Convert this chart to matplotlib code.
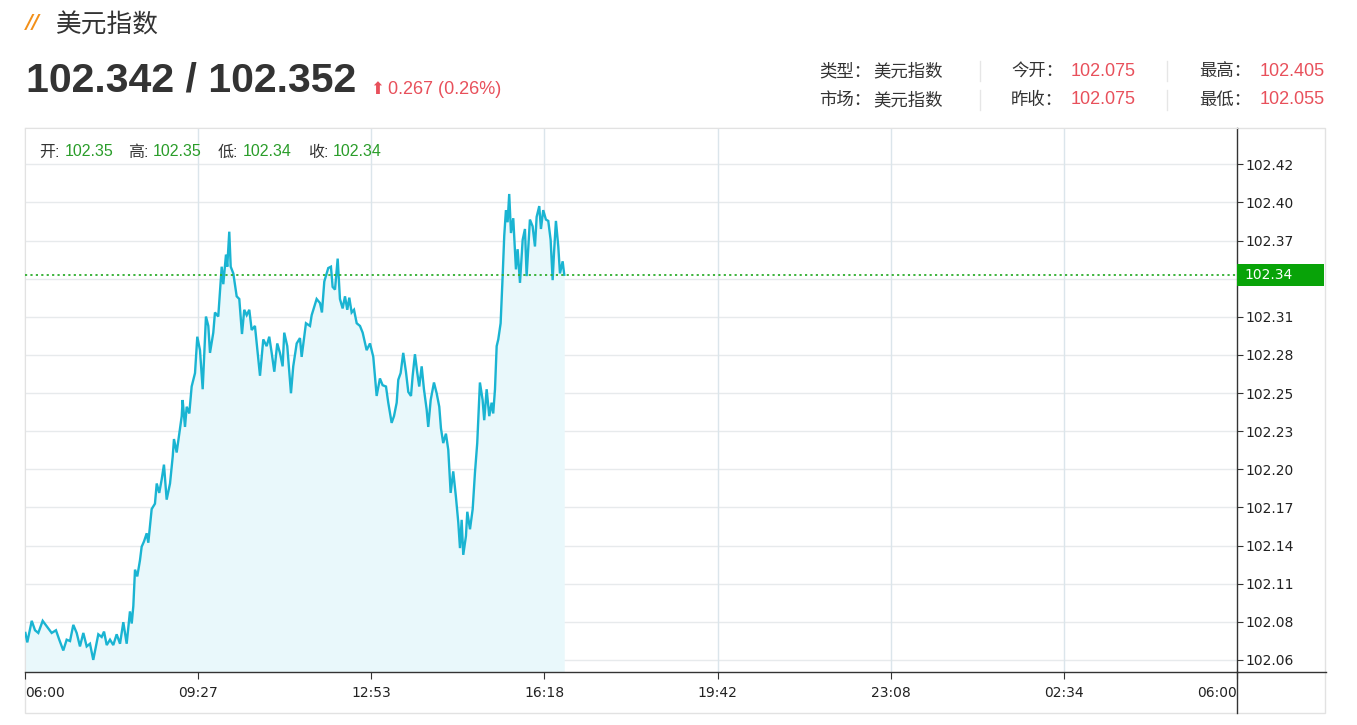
import numpy as np
import matplotlib
matplotlib.use("Agg")
import matplotlib.pyplot as plt
from matplotlib.lines import Line2D
from matplotlib.patches import Rectangle
from matplotlib.transforms import blended_transform_factory

# Header values
TITLE = "美元指数"
BID_ASK = "102.342 / 102.352"
CHANGE = "0.267 (0.26%)"
INFO_ROWS = [
    [("类型：", "美元指数"), ("今开：", "102.075"), ("最高：", "102.405")],
    [("市场：", "美元指数"), ("昨收：", "102.075"), ("最低：", "102.055")],
]
OHLC_LABELS = ["开:", "高:", "低:", "收:"]
OHLC_VALUES = ["102.35", "102.35", "102.34", "102.34"]

# Axis labels
X_TICK_LABELS = ["06:00", "09:27", "12:53", "16:18", "19:42", "23:08", "02:34", "06:00"]
Y_TICK_LABELS = ["102.06", "102.08", "102.11", "102.14", "102.17", "102.20", "102.23",
                 "102.25", "102.28", "102.31", "102.34", "102.37", "102.40", "102.42"]
Y_TICK_FIRST = 102.056
Y_TICK_LAST = 102.424

# Intraday series: minutes after 06:00 and price
MINUTES = [0.5, 2.7, 8.0, 11.9, 15.8, 21.0, 25.8, 31.7, 36.8, 40.7, 45.5, 49.5, 53.5, 57.4,
           61.4, 65.3, 69.3, 73.3, 77.2, 81.1, 87.1, 91.1, 93.9, 97.1, 101.0, 104.9, 108.9,
           112.9, 116.8, 120.8, 124.7, 126.8, 128.7, 130.7, 133.4, 136.6, 138.6, 141.4, 144.6,
           146.5, 150.5, 154.4, 156.5, 159.5, 162.4, 165.1, 168.3, 172.3, 175.5, 177.0, 180.2,
           183.3, 186.2, 187.3, 190.1, 192.1, 195.2, 198.0, 202.0, 204.7, 207.9, 211.1, 215.0,
           217.8, 219.8, 223.7, 225.7, 229.6, 233.7, 235.6, 238.8, 240.3, 242.7, 244.4, 247.5,
           251.5, 254.6, 257.8, 260.5, 263.4, 266.5, 269.3, 273.2, 275.3, 279.2, 283.1, 287.1,
           290.2, 293.1, 296.2, 299.7, 302.9, 306.1, 308.0, 311.6, 316.0, 318.7, 322.8, 326.7,
           328.7, 333.8, 338.6, 340.6, 346.5, 350.5, 352.8, 355.6, 360.3, 363.5, 365.5, 368.3,
           371.5, 374.2, 377.4, 380.2, 382.9, 385.3, 388.1, 390.9, 394.1, 398.0, 401.2, 405.9,
           409.9, 413.8, 417.8, 421.7, 424.9, 428.9, 431.6, 435.6, 438.4, 441.6, 443.5, 446.3,
           449.4, 452.6, 455.4, 458.6, 460.6, 463.3, 466.1, 468.4, 471.3, 474.0, 477.2, 479.1,
           482.0, 485.9, 489.1, 492.2, 494.2, 496.9, 500.1, 502.9, 505.7, 508.8, 512.0, 514.8,
           516.8, 518.8, 520.7, 523.9, 525.5, 528.7, 531.9, 534.6, 537.3, 540.5, 543.7, 545.6,
           548.5, 551.6, 554.4, 556.3, 558.4, 560.4, 562.3, 565.1, 567.5, 569.4, 571.4, 573.4,
           575.3, 577.4, 580.1, 583.3, 585.3, 588.1, 591.3, 594.0, 596.0, 599.9, 603.1, 605.9,
           607.9, 611.0, 613.0, 615.7, 618.9, 621.7, 624.5, 626.9, 628.5, 630.8, 633.6, 635.6,
           638.8, 640.7]
PRICES = [102.076, 102.069, 102.085, 102.078, 102.076, 102.085, 102.081, 102.076, 102.078,
          102.071, 102.063, 102.071, 102.070, 102.082, 102.076, 102.066, 102.076, 102.066,
          102.068, 102.056, 102.075, 102.073, 102.077, 102.067, 102.071, 102.067, 102.075,
          102.068, 102.084, 102.068, 102.092, 102.083, 102.096, 102.123, 102.118, 102.130,
          102.140, 102.144, 102.150, 102.143, 102.168, 102.172, 102.187, 102.180, 102.190,
          102.201, 102.175, 102.187, 102.207, 102.220, 102.210, 102.224, 102.237, 102.249,
          102.229, 102.244, 102.239, 102.259, 102.269, 102.296, 102.286, 102.257, 102.311,
          102.304, 102.284, 102.299, 102.314, 102.311, 102.348, 102.335, 102.357, 102.348,
          102.374, 102.348, 102.343, 102.326, 102.324, 102.298, 102.316, 102.312, 102.316,
          102.301, 102.304, 102.291, 102.267, 102.294, 102.289, 102.296, 102.284, 102.270,
          102.291, 102.284, 102.274, 102.299, 102.289, 102.254, 102.274, 102.291, 102.295,
          102.281, 102.306, 102.304, 102.312, 102.324, 102.321, 102.314, 102.337, 102.347,
          102.348, 102.333, 102.331, 102.354, 102.324, 102.317, 102.326, 102.316, 102.325,
          102.314, 102.316, 102.306, 102.304, 102.299, 102.286, 102.291, 102.281, 102.252,
          102.265, 102.260, 102.259, 102.247, 102.232, 102.237, 102.247, 102.264, 102.269,
          102.284, 102.270, 102.255, 102.252, 102.267, 102.283, 102.269, 102.259, 102.274,
          102.257, 102.242, 102.229, 102.249, 102.262, 102.254, 102.244, 102.228, 102.217,
          102.224, 102.212, 102.180, 102.196, 102.177, 102.158, 102.139, 102.160, 102.134,
          102.148, 102.166, 102.153, 102.168, 102.195, 102.217, 102.262, 102.249, 102.234,
          102.257, 102.237, 102.247, 102.239, 102.257, 102.289, 102.294, 102.306, 102.341,
          102.371, 102.390, 102.381, 102.402, 102.373, 102.384, 102.346, 102.361, 102.336,
          102.368, 102.376, 102.341, 102.383, 102.378, 102.363, 102.385, 102.393, 102.376,
          102.390, 102.383, 102.382, 102.368, 102.338, 102.358, 102.382, 102.363, 102.343,
          102.352, 102.342]

W, H = 1357, 725
RED = "#e8505b"
GREEN = "#2a9d2a"
LINE = "#1ab4d2"
FILL = "#e9f8fb"
MIXED = ["Liberation Sans", "Noto Sans CJK SC"]
CJK = ["Noto Sans CJK SC", "DejaVu Sans"]

fig = plt.figure(figsize=(W / 100, H / 100), dpi=100)
fig.patch.set_facecolor("white")


def fx(x):
    return x / W


def fy(y):
    return 1 - y / H


def put(x, y, s, **kw):
    fig.text(fx(x), fy(y), s, va="center", **kw)


# plot area in pixel terms: x 25..1237, y 128..672
ax = fig.add_axes([fx(25), fy(672), (1237 - 25) / W, (672 - 128) / H])
ax.set_xlim(0, 1440)
ax.set_ylim(102.047, 102.451)

ax.fill_between(MINUTES, PRICES, 102.047, color=FILL, lw=0, zorder=1)
ax.plot(MINUTES, PRICES, color=LINE, lw=1.7, zorder=3, solid_joinstyle="miter")

last = PRICES[-1]
ax.axhline(last, color="#2eae2e", lw=1.3, ls=(0, (1.2, 1.8)), zorder=4)

# ticks and grid
y_ticks = np.linspace(Y_TICK_FIRST, Y_TICK_LAST, len(Y_TICK_LABELS))
x_ticks = np.linspace(0, 1440, len(X_TICK_LABELS))
ax.set_yticks(y_ticks)
# the label nearest the current price sits under the price tag, so it is not shown
hidden = int(np.argmin(np.abs(y_ticks - last)))
ax.set_yticklabels(["" if i == hidden else s for i, s in enumerate(Y_TICK_LABELS)])
ax.set_xticks(x_ticks)
ax.set_xticklabels(X_TICK_LABELS)
ax.yaxis.tick_right()
ax.tick_params(axis="y", direction="out", length=4, width=0.8, color="#333333",
               pad=2, labelsize=10, labelcolor="#222222")
ax.tick_params(axis="x", direction="out", length=5, width=0.8, color="#333333",
               pad=5, labelsize=10, labelcolor="#222222")
xl = ax.get_xticklabels()
xl[0].set_ha("left")
xl[-1].set_ha("right")

for v in y_ticks:
    ax.axhline(v, color="#e7eaec", lw=1.0, zorder=0)
for t in x_ticks[1:-1]:
    ax.axvline(t, color="#dbe5eb", lw=1.0, zorder=0)

for side in ["left", "top"]:
    ax.spines[side].set_color("#e2e2e2")
for side in ["right", "bottom"]:
    ax.spines[side].set_color("#333333")
    ax.spines[side].set_linewidth(1.0)

# current price tag on the right axis
tr = blended_transform_factory(ax.transAxes, ax.transData)
ax.add_patch(Rectangle((1.0, last - 0.0081), 87 / 1212, 0.0162, transform=tr,
                       facecolor="#08a308", edgecolor="none", clip_on=False, zorder=10))
ax.text(1.006, last, f"{last:.2f}", transform=tr, color="white", fontsize=10,
        va="center", ha="left", zorder=11, clip_on=False)

# outer frame and axis extensions
fig.add_artist(Rectangle((fx(25), fy(713)), 1300 / W, (713 - 128) / H, transform=fig.transFigure,
                         fill=False, edgecolor="#e2e2e2", lw=1.0, zorder=0))
fig.add_artist(Line2D([fx(1237), fx(1237)], [fy(672), fy(713)], color="#333333", lw=1.0))
fig.add_artist(Line2D([fx(1237), fx(1326)], [fy(672), fy(672)], color="#333333", lw=1.0))

# OHLC row inside the chart
ohlc_x = [(39, 65), (128, 153), (218, 243), (308, 333)]
for (lx, vx), lab, val in zip(ohlc_x, OHLC_LABELS, OHLC_VALUES):
    put(lx, 152, lab, family=MIXED, fontsize=11.5, color="#333333")
    put(vx, 152, val, family=MIXED, fontsize=11.5, color=GREEN)

# header
put(26, 23, "//", family="DejaVu Sans", fontsize=14, fontweight="bold",
    fontstyle="italic", color="#f39019")
put(56, 26, TITLE, family=CJK, fontsize=18.5, color="#333333")
put(26, 81, BID_ASK, family="Liberation Sans", fontsize=29.5, fontweight="bold", color="#333333")
put(370, 89, "⬆", family="DejaVu Sans", fontsize=12, color=RED)
put(388, 89, CHANGE, family="Liberation Sans", fontsize=13, color=RED)

col_x = [(819, 873), (1011, 1071), (1199, 1260)]
for r, row in enumerate(INFO_ROWS):
    yy = 71 + r * 29
    for (lx, vx), (lab, val) in zip(col_x, row):
        put(lx, yy, lab, family=CJK, fontsize=12.5, color="#333333")
        is_num = val[0].isdigit()
        put(vx, yy, val, family=MIXED if is_num else CJK, fontsize=13 if is_num else 12.5,
            color=RED if is_num else "#333333")
    for sx in (980, 1167):
        fig.add_artist(Line2D([fx(sx), fx(sx)], [fy(yy - 10), fy(yy + 10)],
                              color="#e6e6e6", lw=1.0))

fig.savefig("out.png", dpi=100, facecolor="white")
